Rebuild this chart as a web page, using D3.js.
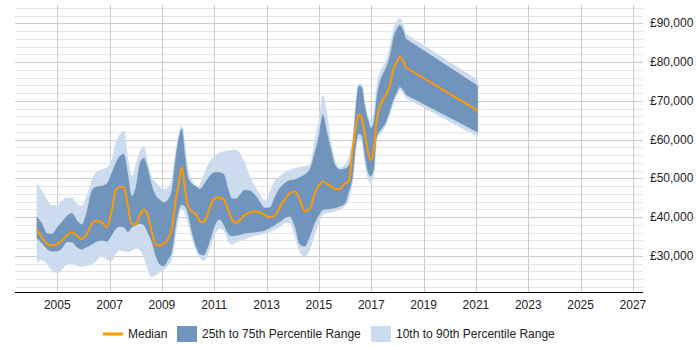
<!DOCTYPE html>
<html><head><meta charset="utf-8">
<script src="https://cdn.jsdelivr.net/npm/d3@7"></script>
<style>
body{margin:0;background:#fff;}
svg{display:block;font-family:"Liberation Sans",Arial,sans-serif;}
</style></head>
<body><svg id="c" width="700" height="350"></svg>
<script>
const dates = [2004.22,2004.42,2004.61,2004.80,2004.99,2005.18,2005.37,2005.56,2005.75,2005.94,
2006.13,2006.33,2006.52,2006.71,2006.90,2007.09,2007.24,2007.39,2007.55,2007.70,
2007.85,2008.01,2008.16,2008.31,2008.46,2008.62,2008.77,2008.92,2009.08,2009.23,
2009.38,2009.53,2009.65,2009.76,2009.88,2009.99,2010.15,2010.30,2010.45,2010.60,
2010.76,2010.91,2011.06,2011.21,2011.37,2011.52,2011.67,2011.83,2011.98,2012.17,
2012.36,2012.55,2012.74,2012.93,2013.12,2013.32,2013.51,2013.70,2013.89,2014.08,
2014.27,2014.46,2014.65,2014.84,2015.00,2015.15,2015.30,2015.46,2015.61,2015.80,
2015.99,2016.14,2016.30,2016.41,2016.52,2016.64,2016.75,2016.87,2016.98,2017.10,
2017.21,2017.36,2017.56,2017.71,2017.86,2017.98,2018.09,2018.32,2021.07];

const median = [36.8,34.7,33.1,32.7,33.0,34.0,35.3,36.2,35.2,34.4,
35.6,38.4,39.1,38.6,37.5,42.0,47.0,47.8,47.8,42.8,
38.2,38.2,40.5,41.9,40.5,36.0,33.0,32.7,33.2,34.4,
37.0,44.5,49.0,52.9,47.5,43.0,41.5,40.8,39.0,38.7,
41.0,43.8,45.0,45.0,44.5,42.0,39.5,38.6,39.3,40.6,
41.2,41.5,41.2,40.6,40.0,40.4,42.7,44.6,46.2,46.6,
44.5,41.5,42.2,46.0,48.2,49.2,48.6,48.0,47.3,47.3,
48.6,49.3,58.2,63.0,66.5,65.5,61.7,57.0,54.7,57.5,
65.0,69.0,71.6,73.9,78.5,80.0,81.3,78.6,67.5];

const p75 = [40.2,38.3,35.8,35.7,37.3,38.8,40.3,41.0,39.2,38.1,
41.5,47.0,47.9,48.1,48.7,51.5,54.0,55.7,56.3,51.0,
45.4,48.0,54.0,55.2,52.5,48.0,45.5,44.5,43.8,44.5,
47.0,55.5,60.5,62.8,56.0,50.5,48.6,48.0,47.2,48.4,
50.0,51.2,51.6,51.5,51.0,47.5,44.8,44.7,45.8,47.0,
46.8,45.8,44.0,42.4,42.5,45.3,47.5,48.8,49.5,49.7,
50.3,51.0,52.3,56.6,61.0,66.4,62.0,57.5,53.5,52.3,
52.5,53.3,58.5,68.5,73.9,73.5,69.0,65.3,63.0,64.5,
71.0,75.5,78.5,81.5,86.6,88.5,89.5,86.0,73.9];

const p25 = [34.5,33.3,31.8,31.2,31.2,32.0,33.6,33.6,32.3,31.7,
32.3,33.0,33.8,34.0,33.8,35.5,37.0,37.6,37.4,36.2,
37.4,38.0,38.4,38.0,36.0,33.5,30.0,27.8,27.4,29.0,
31.0,38.0,42.0,43.2,42.8,41.0,36.0,32.5,30.5,30.2,
32.5,35.5,38.5,39.4,38.0,35.8,35.2,35.3,35.5,35.8,
36.0,36.1,36.3,36.6,37.2,38.0,38.8,39.8,40.2,37.6,
33.0,32.5,35.0,38.5,40.5,41.9,42.1,42.2,42.4,42.8,
43.5,46.5,51.0,58.5,61.5,61.0,56.0,51.8,50.6,52.5,
60.8,62.5,64.5,67.5,70.5,72.2,73.6,71.6,61.9];

const p90 = [48.8,46.7,44.5,43.0,43.0,44.3,45.0,45.0,43.5,42.9,
45.5,49.8,51.8,52.3,52.8,54.8,59.3,61.3,62.2,55.5,
50.5,54.0,57.0,58.3,54.0,50.3,49.0,47.8,47.3,47.6,
50.0,57.5,61.5,63.6,59.0,53.0,49.5,47.5,48.5,51.0,
53.5,55.0,56.0,56.6,57.0,57.2,57.3,57.4,56.5,54.0,
50.5,48.0,46.0,44.3,46.5,49.5,50.6,51.6,52.1,52.6,
52.9,53.2,53.5,60.0,65.0,71.6,67.0,59.5,55.0,52.7,
53.5,55.5,61.5,69.0,74.5,74.3,69.0,66.0,65.0,67.0,
74.0,77.8,80.3,84.0,88.7,90.5,91.3,87.3,75.4];

const p10 = [28.3,28.9,27.8,26.3,25.6,26.5,27.8,28.0,27.5,27.3,
27.5,27.8,29.0,29.8,29.0,28.8,30.5,31.5,31.2,31.0,
31.4,32.0,31.5,29.5,26.5,24.5,25.0,25.8,26.5,27.5,
29.0,35.5,40.0,42.2,41.0,38.5,34.5,31.5,29.5,28.8,
30.5,33.5,36.0,37.0,36.5,34.0,33.0,33.5,33.8,34.3,
34.8,35.2,35.5,35.8,36.2,36.8,37.5,38.5,38.5,35.0,
31.0,29.9,31.5,35.5,38.5,40.5,41.0,41.3,41.5,42.0,
42.8,44.5,49.5,57.0,60.2,59.5,54.0,50.0,48.8,51.0,
59.8,61.5,63.8,66.5,69.5,71.3,72.7,70.7,60.8];

const xTicks = [2005,2007,2009,2011,2013,2015,2017,2019,2021,2023,2025,2027];
const yTicks = [30000,40000,50000,60000,70000,80000,90000];
const legendLabels = ["Median","25th to 75th Percentile Range","10th to 90th Percentile Range"];

const svg = d3.select("#c");
const L = 15, R = 643, T = 5, B = 292;
const x = d3.scaleLinear().domain([2003.385, 2027.385]).range([L, R]);
const y = d3.scaleLinear().domain([20711, 94719]).range([B, T]);

const data = dates.map((d,i)=>({d, m:median[i]*1000, a:p25[i]*1000, b:p75[i]*1000, lo:p10[i]*1000, hi:p90[i]*1000}));
// smooth part up to the last monthly reading, straight tail to the final point
const head = data.slice(0, data.length - 1);
const tail = data.slice(data.length - 2);

// grid
const g = svg.append("g");
const minor = d3.range(22000, 94001, 2000);
g.selectAll("line.h").data(minor).join("line")
  .attr("x1", L).attr("x2", R)
  .attr("y1", d=>Math.round(y(d))+0.5).attr("y2", d=>Math.round(y(d))+0.5)
  .attr("stroke", d=> d%10000===0 ? "#cccccc" : "#e6e6e6").attr("stroke-width",1);
g.selectAll("line.v").data(xTicks).join("line")
  .attr("x1", d=>Math.round(x(d))+0.5).attr("x2", d=>Math.round(x(d))+0.5)
  .attr("y1", T).attr("y2", B)
  .attr("stroke", "#cccccc").attr("stroke-width",1);

function band(lo, hi, fill){
  [[head, d3.curveMonotoneX],[tail, d3.curveLinear]].forEach(([ds, c])=>{
    svg.append("path").datum(ds)
      .attr("d", d3.area().x(d=>x(d.d)).y0(d=>y(d[lo])).y1(d=>y(d[hi])).curve(c))
      .attr("fill", fill).attr("stroke", fill).attr("stroke-width", 0.3);
  });
}
band("lo","hi","#ccdcee");
band("a","b","#7094bb");

const medPath = d3.line().x(d=>x(d.d)).y(d=>y(d.m)).curve(d3.curveMonotoneX)(head)
  + d3.line().x(d=>x(d.d)).y(d=>y(d.m))(tail).replace(/^M/, "L");
svg.append("path").attr("d", medPath)
  .attr("fill", "none").attr("stroke", "#ff9900").attr("stroke-width", 2)
  .attr("stroke-linejoin","round");

// x axis
svg.append("line").attr("x1", L).attr("x2", R).attr("y1", B+0.5).attr("y2", B+0.5)
  .attr("stroke", "#000").attr("stroke-width", 1);
svg.selectAll("text.xt").data(xTicks).join("text")
  .attr("x", d=>x(d)).attr("y", 309).attr("text-anchor", "middle")
  .attr("font-size", 12).attr("fill", "#222").text(d=>d);
// y labels
const fmt = d=>"£"+d3.format(",")(d);
svg.selectAll("text.yt").data(yTicks).join("text")
  .attr("x", 650).attr("y", d=>y(d)+4).attr("text-anchor", "start")
  .attr("font-size", 12).attr("fill", "#222").text(fmt);

// legend
const lg = svg.append("g");
lg.append("line").attr("x1",103).attr("x2",123).attr("y1",334).attr("y2",334)
  .attr("stroke","#ff9900").attr("stroke-width",3);
lg.append("text").attr("x",128).attr("y",338).attr("font-size",12).attr("fill","#222").text(legendLabels[0]);
lg.append("rect").attr("x",177).attr("y",326).attr("width",20).attr("height",16).attr("fill","#7094bb");
lg.append("text").attr("x",202).attr("y",338).attr("font-size",12).attr("fill","#222").text(legendLabels[1]);
lg.append("rect").attr("x",371).attr("y",326).attr("width",20).attr("height",16).attr("fill","#ccdcee");
lg.append("text").attr("x",396).attr("y",338).attr("font-size",12).attr("fill","#222").text(legendLabels[2]);
</script></body></html>
